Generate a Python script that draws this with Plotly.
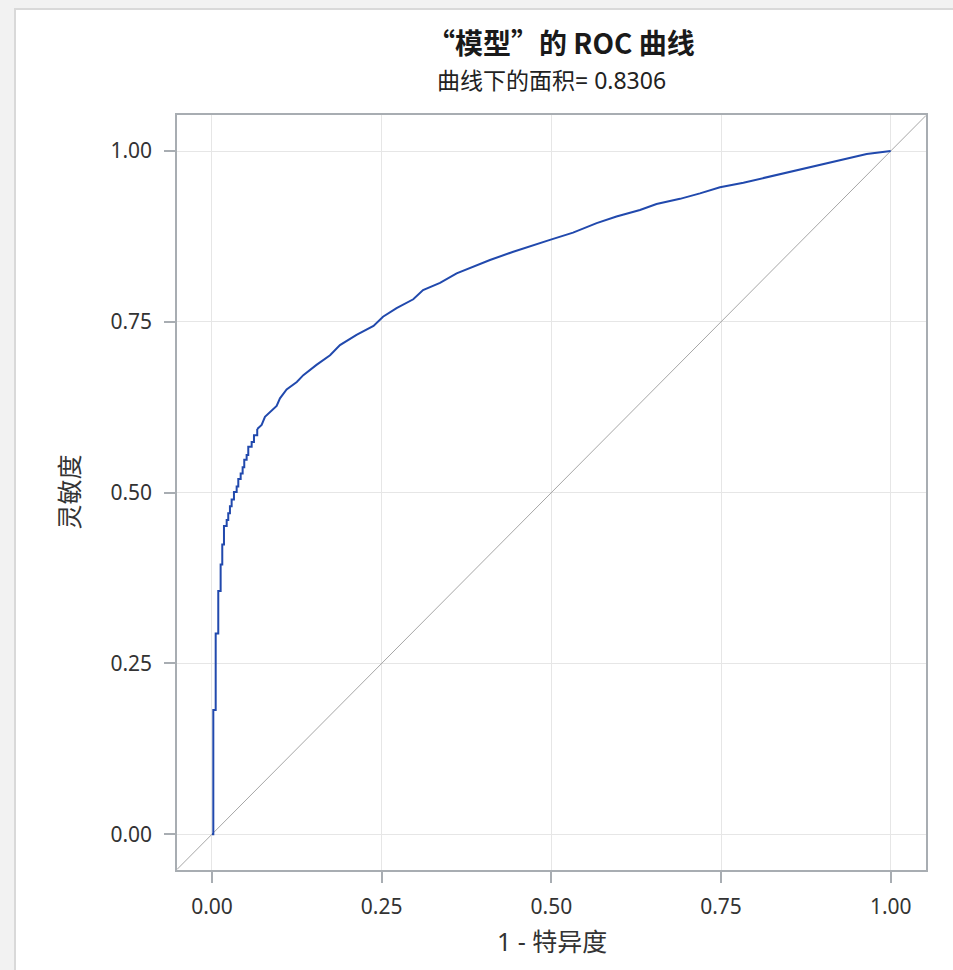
import plotly.graph_objects as go

# ---- data ----
# steep early part (staircase: x of each vertical step, its top)
fpr_steps = [0.0, 0.002, 0.0055, 0.0093, 0.0128, 0.0152, 0.0177, 0.0217, 0.024, 0.0265,
             0.029, 0.0324, 0.0364, 0.0388, 0.0423, 0.0452, 0.0476, 0.0511, 0.0535,
             0.0585, 0.0619, 0.0667]
tpr_steps = [0.0, 0.182, 0.294, 0.356, 0.395, 0.424, 0.451, 0.46, 0.47, 0.48,
             0.49, 0.501, 0.509, 0.52, 0.528, 0.537, 0.548, 0.555, 0.567,
             0.574, 0.584, 0.593]
# dense later part
fpr_rest = [0.0667, 0.0732, 0.0781, 0.0855, 0.0953, 0.1002, 0.110, 0.125,
            0.1346, 0.154, 0.174, 0.1886, 0.213, 0.238, 0.252, 0.272, 0.2966,
            0.311, 0.336, 0.3605, 0.385, 0.4096, 0.444, 0.4734, 0.498, 0.532, 0.5668,
            0.596, 0.6306, 0.655, 0.6896, 0.719, 0.7485, 0.783, 0.817, 0.8468, 0.876,
            0.9057, 0.935, 0.9646, 1.0]
tpr_rest = [0.593, 0.599, 0.611, 0.618, 0.627, 0.638, 0.651, 0.662,
            0.672, 0.687, 0.701, 0.716, 0.731, 0.744, 0.7575, 0.770, 0.783,
            0.7966, 0.807, 0.821, 0.8307, 0.8405, 0.8526, 0.8624, 0.870, 0.8805, 0.8944,
            0.9041, 0.9137, 0.9225, 0.930, 0.938, 0.947, 0.9536, 0.9614, 0.968, 0.9747,
            0.981, 0.988, 0.9956, 1.0]

x_range = [-0.0515, 1.052]
y_range = [-0.0523, 1.0527]
tick_vals = [0, 0.25, 0.5, 0.75, 1.0]
tick_text = ["0.00", "0.25", "0.50", "0.75", "1.00"]

title_text = "“模型”的 ROC 曲线"
subtitle_text = "曲线下的面积= 0.8306"
x_title = "1 - 特异度"
y_title = "灵敏度"

FONT = "Noto Sans, Noto Sans CJK SC, sans-serif"
TITLE_FONT = "Noto Sans CJK SC, Noto Sans, sans-serif"
CURVE = "#2149ad"
AXIS = "#a8adb2"

fig = go.Figure()
fig.add_trace(go.Scatter(x=x_range, y=x_range, mode="lines",
                         line=dict(color="#a6a6a6", width=1), hoverinfo="skip"))
fig.add_trace(go.Scatter(x=fpr_steps, y=tpr_steps, mode="lines", line_shape="hv",
                         line=dict(color=CURVE, width=2)))
fig.add_trace(go.Scatter(x=fpr_rest, y=tpr_rest, mode="lines",
                         line=dict(color=CURVE, width=2)))

axis_common = dict(
    tickvals=tick_vals, ticktext=tick_text,
    showgrid=True, gridcolor="#e6e6e6", gridwidth=1,
    showline=True, linecolor=AXIS, linewidth=1.5, mirror=True,
    ticks="outside", ticklen=11, tickcolor=AXIS, tickwidth=1.5,
    tickfont=dict(family=FONT, size=21, color="#333333"),
    zeroline=False, fixedrange=True,
)
fig.update_xaxes(range=x_range, ticklabelstandoff=6, **axis_common)
fig.update_yaxes(range=y_range, ticklabelstandoff=8, **axis_common)

fig.update_layout(
    width=953, height=970, autosize=False,
    margin=dict(l=177, r=27, t=115, b=100),
    paper_bgcolor="#f2f2f2", plot_bgcolor="white",
    showlegend=False,
    shapes=[dict(type="rect", xref="paper", yref="paper", layer="below",
                 x0=-0.2163, x1=1.06, y0=-0.16, y1=1.1405,
                 fillcolor="white", line=dict(color="#d9d9d9", width=2))],
    annotations=[
        dict(text="<b>" + title_text + "</b>", xref="paper", yref="paper", x=0.5127, y=1.0967,
             xanchor="center", yanchor="middle", showarrow=False,
             font=dict(family=TITLE_FONT, size=28, color="#1a1a1a")),
        dict(text=subtitle_text, xref="paper", yref="paper", x=0.5, y=1.0464,
             xanchor="center", yanchor="middle", showarrow=False,
             font=dict(family=FONT, size=23, color="#222222")),
        dict(text=x_title, xref="paper", yref="paper", x=0.5, y=-0.094,
             xanchor="center", yanchor="middle", showarrow=False,
             font=dict(family=FONT, size=25, color="#333333")),
        dict(text=y_title, xref="paper", yref="paper", x=-0.1455, y=0.5,
             xanchor="center", yanchor="middle", showarrow=False, textangle=-90,
             font=dict(family=FONT, size=25, color="#333333")),
    ],
)

fig.write_html("out.html")
